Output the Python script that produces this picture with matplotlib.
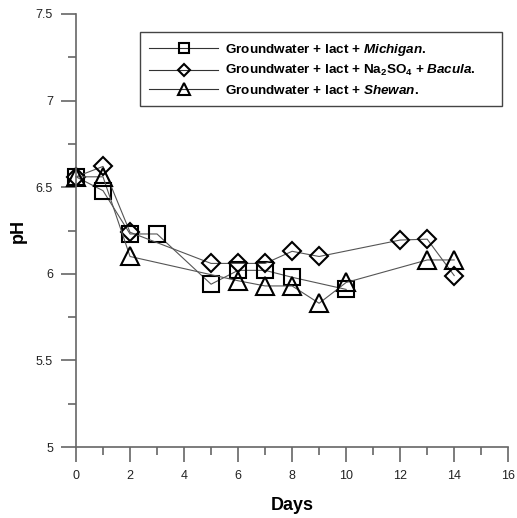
import numpy as np
import matplotlib
matplotlib.use("Agg")
import matplotlib.pyplot as plt
from matplotlib.ticker import MultipleLocator, FormatStrFormatter

plt.rcParams['font.family'] = ['Liberation Sans', 'DejaVu Sans']
plt.rcParams['mathtext.fontset'] = 'custom'
plt.rcParams['mathtext.rm'] = 'Liberation Sans:bold'
plt.rcParams['mathtext.it'] = 'Liberation Sans:italic:bold'
plt.rcParams['mathtext.bf'] = 'Liberation Sans:bold'

# data
days_mich = [0, 1, 2, 3, 5, 6, 7, 8, 10]
ph_mich = [6.56, 6.48, 6.23, 6.23, 5.94, 6.02, 6.02, 5.98, 5.91]

days_bac = [0, 1, 2, 5, 6, 7, 8, 9, 12, 13, 14]
ph_bac = [6.56, 6.62, 6.24, 6.06, 6.06, 6.06, 6.13, 6.10, 6.195, 6.20, 5.99]

days_she = [0, 1, 2, 6, 7, 8, 9, 10, 13, 14]
ph_she = [6.56, 6.56, 6.10, 5.96, 5.93, 5.93, 5.83, 5.95, 6.08, 6.08]

labels = [
    r"Groundwater + lact + $\mathit{Michigan.}$",
    r"Groundwater + lact + $\mathrm{Na_2SO_4}$ + $\mathit{Bacula.}$",
    r"Groundwater + lact + $\mathit{Shewan.}$",
]

fig = plt.figure(figsize=(5.17, 5.18), dpi=100)
ax = fig.add_axes([0.147, 0.137, 0.836, 0.836])

line_kw = dict(color='#555555', lw=0.8, mfc='none', mec='black', mew=1.5, clip_on=False)
ax.plot(days_mich, ph_mich, marker='s', ms=11, label=labels[0], **line_kw)
ax.plot(days_bac, ph_bac, marker='D', ms=9, label=labels[1], **line_kw)
ax.plot(days_she, ph_she, marker='^', ms=13, label=labels[2], **line_kw)

ax.set_xlim(0, 16)
ax.set_ylim(5, 7.5)
ax.xaxis.set_major_locator(MultipleLocator(2))
ax.xaxis.set_minor_locator(MultipleLocator(1))
ax.yaxis.set_major_locator(MultipleLocator(0.5))
ax.yaxis.set_minor_locator(MultipleLocator(0.25))
ax.yaxis.set_major_formatter(FormatStrFormatter('%g'))

for s in ['top', 'right']:
    ax.spines[s].set_visible(False)
for s in ['left', 'bottom']:
    ax.spines[s].set_color('#666666')
    ax.spines[s].set_linewidth(1.2)

ax.tick_params(which='major', direction='out', length=10.5, width=1.2, color='#666666',
               labelsize=9, labelcolor='#222222', pad=6)
ax.tick_params(which='minor', direction='out', length=5.5, width=1.2, color='#666666')

ax.set_xlabel('Days', fontsize=13, fontweight='bold')
ax.set_ylabel('pH', fontsize=13, fontweight='bold')
ax.xaxis.set_label_coords(0.5, -0.115)
ax.yaxis.set_label_coords(-0.113, 0.5)

leg = ax.legend(loc='upper left', bbox_to_anchor=(0.148, 0.79, 0.838, 0.168),
                mode='expand', fancybox=False,
                edgecolor='#444444', framealpha=1, prop={'weight': 'bold', 'size': 9.7},
                handlelength=5.1, markerscale=0.7, borderpad=0.7, labelspacing=0.42,
                handletextpad=0.5, borderaxespad=0)
leg.get_frame().set_linewidth(1.0)
for h in leg.get_lines():
    h.set_color('#333333')

plt.savefig('out.png', dpi=100)
